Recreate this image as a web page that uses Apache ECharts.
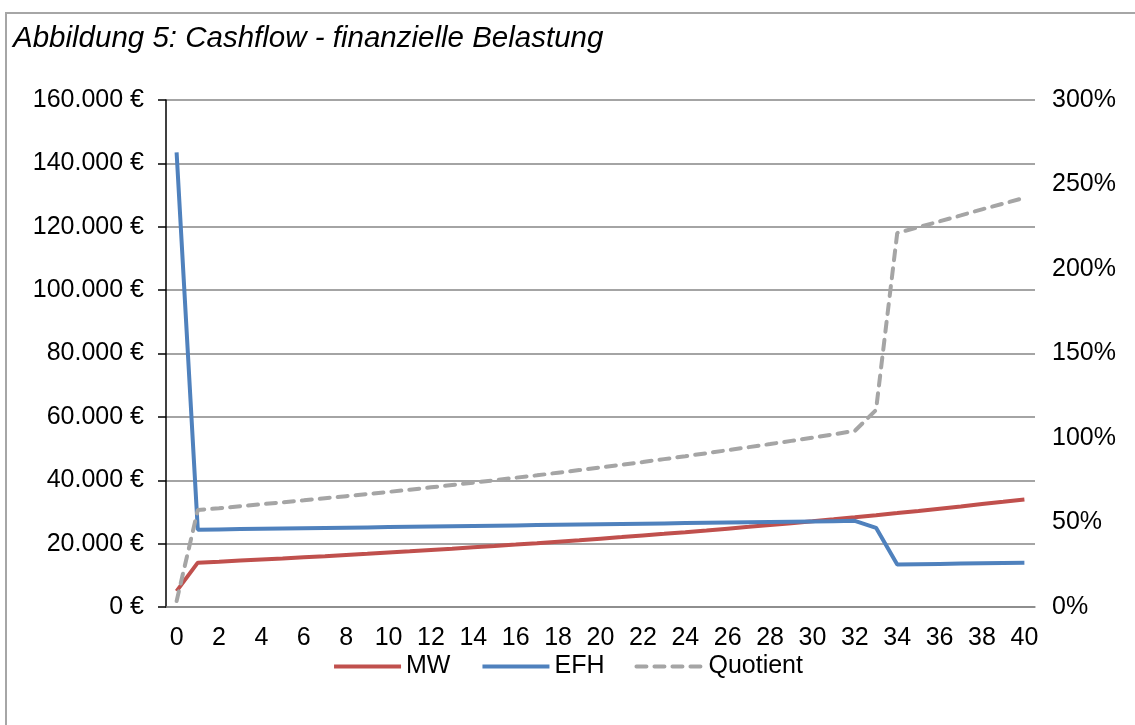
<!DOCTYPE html>
<html>
<head>
<meta charset="utf-8">
<script src="https://cdn.jsdelivr.net/npm/echarts@6/dist/echarts.min.js"></script>
<style>
  html, body { margin: 0; padding: 0; background: #fff; overflow: hidden; }
  #frame { position: absolute; left: 5px; top: 12px; width: 1300px; height: 900px; border: 2px solid #a6a6a6; }
  #chart { position: absolute; left: 0; top: 0; width: 1135px; height: 725px; }
</style>
</head>
<body>
<div id="frame"></div>
<div id="chart"></div>
<script>
// Jahre 0..40
var years = [];
for (var i = 0; i <= 40; i++) years.push(String(i));

// Belastung Mietwohnung (MW)
var mw = [5000, 14000, 14300, 14650, 15000, 15330, 15690, 16050, 16420, 16790,
  17180, 17570, 17980, 18390, 18820, 19250, 19690, 20140, 20610, 21080,
  21570, 22060, 22570, 23090, 23620, 24160, 24720, 25290, 25870, 26460,
  27070, 27690, 28330, 28980, 29650, 30330, 31030, 31740, 32470, 33180, 33900];

// Belastung Einfamilienhaus (EFH)
var efh = [143500, 24400, 24490, 24580, 24670, 24760, 24850, 24940, 25030, 25120,
  25210, 25300, 25390, 25480, 25570, 25660, 25750, 25840, 25930, 26020,
  26110, 26200, 26290, 26380, 26470, 26560, 26650, 26740, 26830, 26920,
  27010, 27100, 27190, 25000, 13400, 13500, 13600, 13700, 13800, 13900, 14000];

// Quotient MW / EFH
var quotient = [0.035, 0.574, 0.584, 0.596, 0.608, 0.619, 0.631, 0.644, 0.656, 0.668,
  0.681, 0.694, 0.708, 0.722, 0.736, 0.750, 0.765, 0.779, 0.795, 0.810,
  0.826, 0.842, 0.858, 0.875, 0.892, 0.910, 0.928, 0.946, 0.964, 0.983,
  1.002, 1.022, 1.042, 1.166, 2.213, 2.247, 2.282, 2.317, 2.353, 2.387, 2.421];

var fontName = '"Liberation Sans", Arial, sans-serif';

function euro(v) {
    return String(v).replace(/\B(?=(\d{3})+(?!\d))/g, '.') + ' €';
}

var myChart = echarts.init(document.getElementById('chart'));

var option = {
    animation: false,
    textStyle: { fontFamily: fontName },
    title: {
        text: 'Abbildung 5: Cashflow - finanzielle Belastung',
        left: 8,
        top: 19,
        textStyle: {
            fontSize: 29.5,
            fontStyle: 'italic',
            fontWeight: 'normal',
            color: '#000',
            fontFamily: fontName
        }
    },
    legend: {
        top: 649,
        left: 'center',
        itemWidth: 67,
        itemHeight: 10,
        itemGap: 30,
        itemStyle: { opacity: 0 },
        lineStyle: { width: 4 },
        textStyle: { fontSize: 25, color: '#000', fontFamily: fontName },
        data: ['MW', 'EFH', 'Quotient']
    },
    grid: {
        left: 166,
        right: 100,
        top: 100,
        bottom: 118
    },
    xAxis: {
        type: 'category',
        data: years,
        boundaryGap: true,
        axisLine: { lineStyle: { color: '#868686', width: 1.5 } },
        axisTick: { show: false },
        axisLabel: {
            interval: 1,
            fontSize: 25,
            color: '#000',
            margin: 19
        }
    },
    yAxis: [
        {
            type: 'value',
            min: 0,
            max: 160000,
            interval: 20000,
            axisLine: { show: true, lineStyle: { color: '#000', width: 1.5 } },
            axisTick: { show: true, length: 8, lineStyle: { color: '#000', width: 1.5 } },
            splitLine: { lineStyle: { color: '#868686', width: 1.5 } },
            axisLabel: {
                fontSize: 25,
                color: '#000',
                margin: 22,
                formatter: euro
            }
        },
        {
            type: 'value',
            min: 0,
            max: 3,
            interval: 0.5,
            axisLine: { show: false },
            axisTick: { show: false },
            splitLine: { show: false },
            axisLabel: {
                fontSize: 25,
                color: '#000',
                margin: 17,
                formatter: function (v) { return Math.round(v * 100) + '%'; }
            }
        }
    ],
    series: [
        {
            name: 'MW',
            type: 'line',
            data: mw,
            symbol: 'none',
            itemStyle: { color: '#C0504D' },
            lineStyle: { color: '#C0504D', width: 4 }
        },
        {
            name: 'EFH',
            type: 'line',
            data: efh,
            symbol: 'none',
            itemStyle: { color: '#4F81BD' },
            lineStyle: { color: '#4F81BD', width: 4 }
        },
        {
            name: 'Quotient',
            type: 'line',
            yAxisIndex: 1,
            data: quotient,
            symbol: 'none',
            itemStyle: { color: '#A5A5A5' },
            lineStyle: { color: '#A5A5A5', width: 4, type: [10, 8], cap: 'round' }
        }
    ]
};

myChart.setOption(option);
</script>
</body>
</html>
